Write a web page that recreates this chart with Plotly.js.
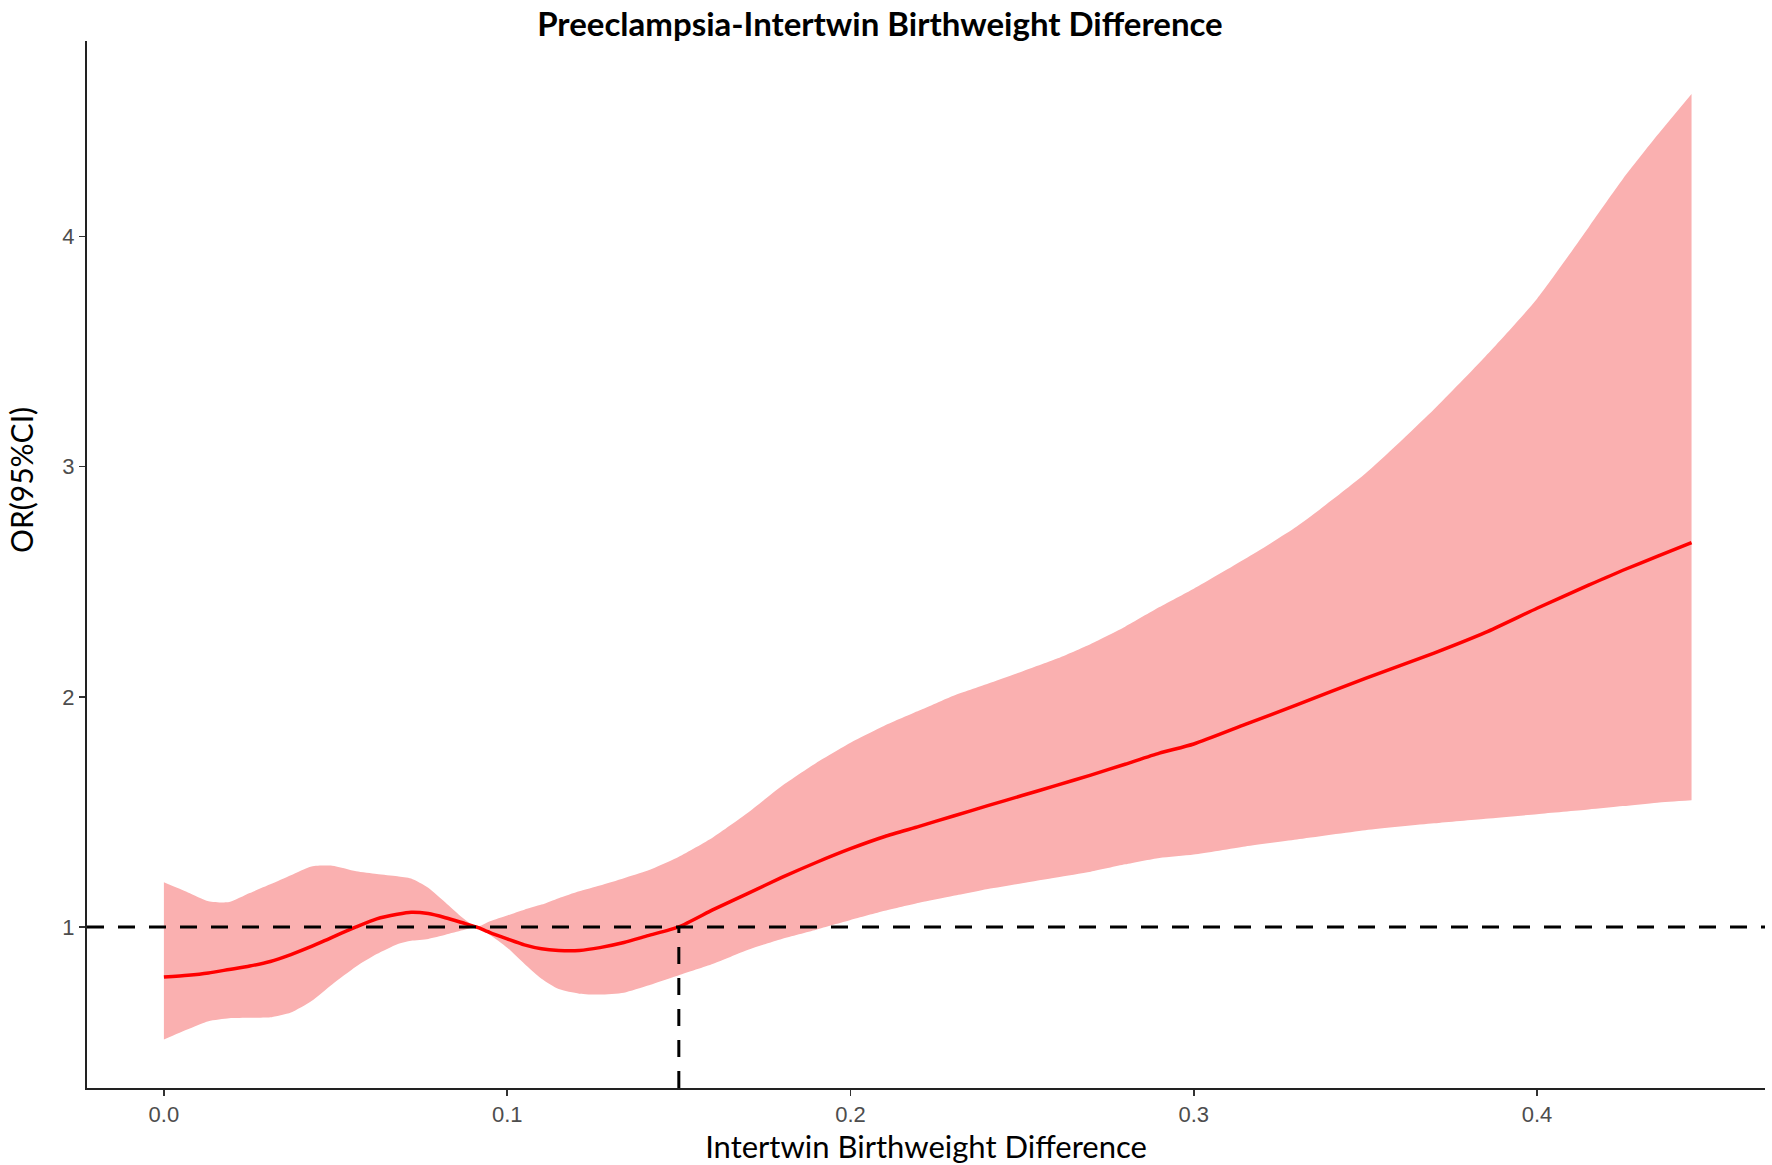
<!DOCTYPE html>
<html>
<head>
<meta charset="utf-8">
<script src="https://cdn.plot.ly/plotly-3.0.1.min.js"></script>
<style>
  html, body { margin: 0; padding: 0; background: #ffffff; }
  #graph { width: 1772px; height: 1165px; }
</style>
</head>
<body>
<div id="graph"></div>
<script>
"use strict";

// intertwin birthweight difference (x) and OR with 95% CI
const diffX = [0, 0.007, 0.013, 0.019, 0.025, 0.031, 0.037, 0.043, 0.049, 0.056,
    0.062, 0.068, 0.072, 0.077, 0.082, 0.087, 0.091, 0.095, 0.1, 0.105,
    0.11, 0.115, 0.121, 0.127, 0.134, 0.141, 0.15, 0.16, 0.17, 0.18,
    0.19, 0.2, 0.21, 0.22, 0.23, 0.24, 0.25, 0.26, 0.27, 0.28,
    0.29, 0.3, 0.315, 0.33, 0.35, 0.37, 0.385, 0.4, 0.415, 0.425,
    0.435, 0.445];

const orMean = [0.782, 0.79, 0.80, 0.815, 0.83, 0.85, 0.88, 0.915, 0.955, 1.0,
    1.035, 1.055, 1.064, 1.058, 1.04, 1.018, 1.0, 0.975, 0.948, 0.922,
    0.905, 0.898, 0.898, 0.91, 0.932, 0.962, 1.0, 1.075, 1.145, 1.215,
    1.28, 1.34, 1.393, 1.437, 1.482, 1.527, 1.571, 1.615, 1.66, 1.707,
    1.755, 1.795, 1.88, 1.965, 2.08, 2.19, 2.28, 2.385, 2.485, 2.55,
    2.61, 2.67];

const ciUpper = [1.194, 1.15, 1.112, 1.108, 1.147, 1.185, 1.225, 1.263, 1.266, 1.242,
    1.23, 1.22, 1.21, 1.17, 1.106, 1.04, 1.0, 1.025, 1.05, 1.075,
    1.097, 1.125, 1.155, 1.18, 1.212, 1.245, 1.305, 1.39, 1.495, 1.612,
    1.712, 1.8, 1.875, 1.94, 2.005, 2.057, 2.11, 2.165, 2.23, 2.305,
    2.39, 2.47, 2.60, 2.74, 2.97, 3.25, 3.48, 3.73, 4.04, 4.25,
    4.44, 4.62];

const ciLower = [0.511, 0.555, 0.59, 0.603, 0.605, 0.607, 0.628, 0.678, 0.75, 0.828,
    0.882, 0.925, 0.94, 0.948, 0.966, 0.985, 0.998, 0.965, 0.91, 0.84,
    0.775, 0.73, 0.71, 0.706, 0.714, 0.745, 0.79, 0.84, 0.9, 0.948,
    0.988, 1.03, 1.07, 1.105, 1.135, 1.165, 1.19, 1.215, 1.24, 1.272,
    1.3, 1.315, 1.35, 1.38, 1.42, 1.45, 1.47, 1.49, 1.51, 1.525,
    1.54, 1.55];

const xTickVals = [0, 0.1, 0.2, 0.3, 0.4];
const xTickText = ['0.0', '0.1', '0.2', '0.3', '0.4'];
const yTickVals = [1, 2, 3, 4];
const yTickText = ['1', '2', '3', '4'];

const refOR = 1;        // horizontal dashed line
const cutoffX = 0.15;   // vertical dashed line

const xRange = [-0.0224, 0.4664];
const yRange = [0.30, 4.85];

const traces = [
    {
        x: diffX, y: ciLower, type: 'scatter', mode: 'lines',
        line: { width: 0, color: 'rgba(0,0,0,0)', shape: 'spline', smoothing: 0.6 },
        hoverinfo: 'skip', showlegend: false
    },
    {
        x: diffX, y: ciUpper, type: 'scatter', mode: 'lines',
        fill: 'tonexty', fillcolor: 'rgb(250,176,176)',
        line: { width: 0, color: 'rgba(0,0,0,0)', shape: 'spline', smoothing: 0.6 },
        hoverinfo: 'skip', showlegend: false
    },
    {
        x: diffX, y: orMean, type: 'scatter', mode: 'lines',
        line: { color: '#ff0000', width: 3.5, shape: 'spline', smoothing: 0.6 },
        showlegend: false
    }
];

const axisCommon = {
    showgrid: false, zeroline: false,
    showline: true, linecolor: '#222222', linewidth: 2,
    ticks: 'outside', ticklen: 6, tickwidth: 1.5, tickcolor: '#333333',
    tickfont: { family: 'Liberation Sans, Arial, sans-serif', size: 22, color: '#4d4d4d' }
};

const layout = {
    width: 1772, height: 1165,
    paper_bgcolor: '#ffffff', plot_bgcolor: '#ffffff',
    margin: { l: 87, r: 7, t: 41, b: 77 },
    showlegend: false,
    title: {
        text: '<b>Preeclampsia-Intertwin Birthweight Difference</b>',
        font: { family: 'Lato, sans-serif', size: 33, color: '#000000' },
        xref: 'container', x: 0.4966, xanchor: 'center',
        yref: 'container', y: 0.979, yanchor: 'middle'
    },
    xaxis: Object.assign({}, axisCommon, {
        range: xRange, tickvals: xTickVals, ticktext: xTickText,
        title: { text: 'Intertwin Birthweight Difference', standoff: 6,
            font: { family: 'Lato, sans-serif', size: 31, color: '#000000' } }
    }),
    yaxis: Object.assign({}, axisCommon, {
        range: yRange, tickvals: yTickVals, ticktext: yTickText
    }),
    annotations: [
        {
            text: 'OR(95%CI)', textangle: -90, showarrow: false,
            xref: 'paper', yref: 'paper', x: -0.0393, y: 0.5807,
            xanchor: 'center', yanchor: 'middle',
            font: { family: 'Lato, sans-serif', size: 30, color: '#000000' }
        }
    ],
    shapes: [
        {
            type: 'line', xref: 'paper', yref: 'y',
            x0: 0, x1: 1, y0: refOR, y1: refOR,
            line: { color: '#000000', width: 3, dash: '17px,14px' }
        },
        {
            type: 'line', xref: 'x', yref: 'y',
            x0: cutoffX, x1: cutoffX, y0: yRange[0], y1: refOR,
            line: { color: '#000000', width: 3, dash: '17px,14px' }
        }
    ]
};

Plotly.newPlot('graph', traces, layout, { displayModeBar: false, staticPlot: true }).catch(err => {
    console.error('Grafik çizilirken hata:', err);
});
</script>
</body>
</html>
